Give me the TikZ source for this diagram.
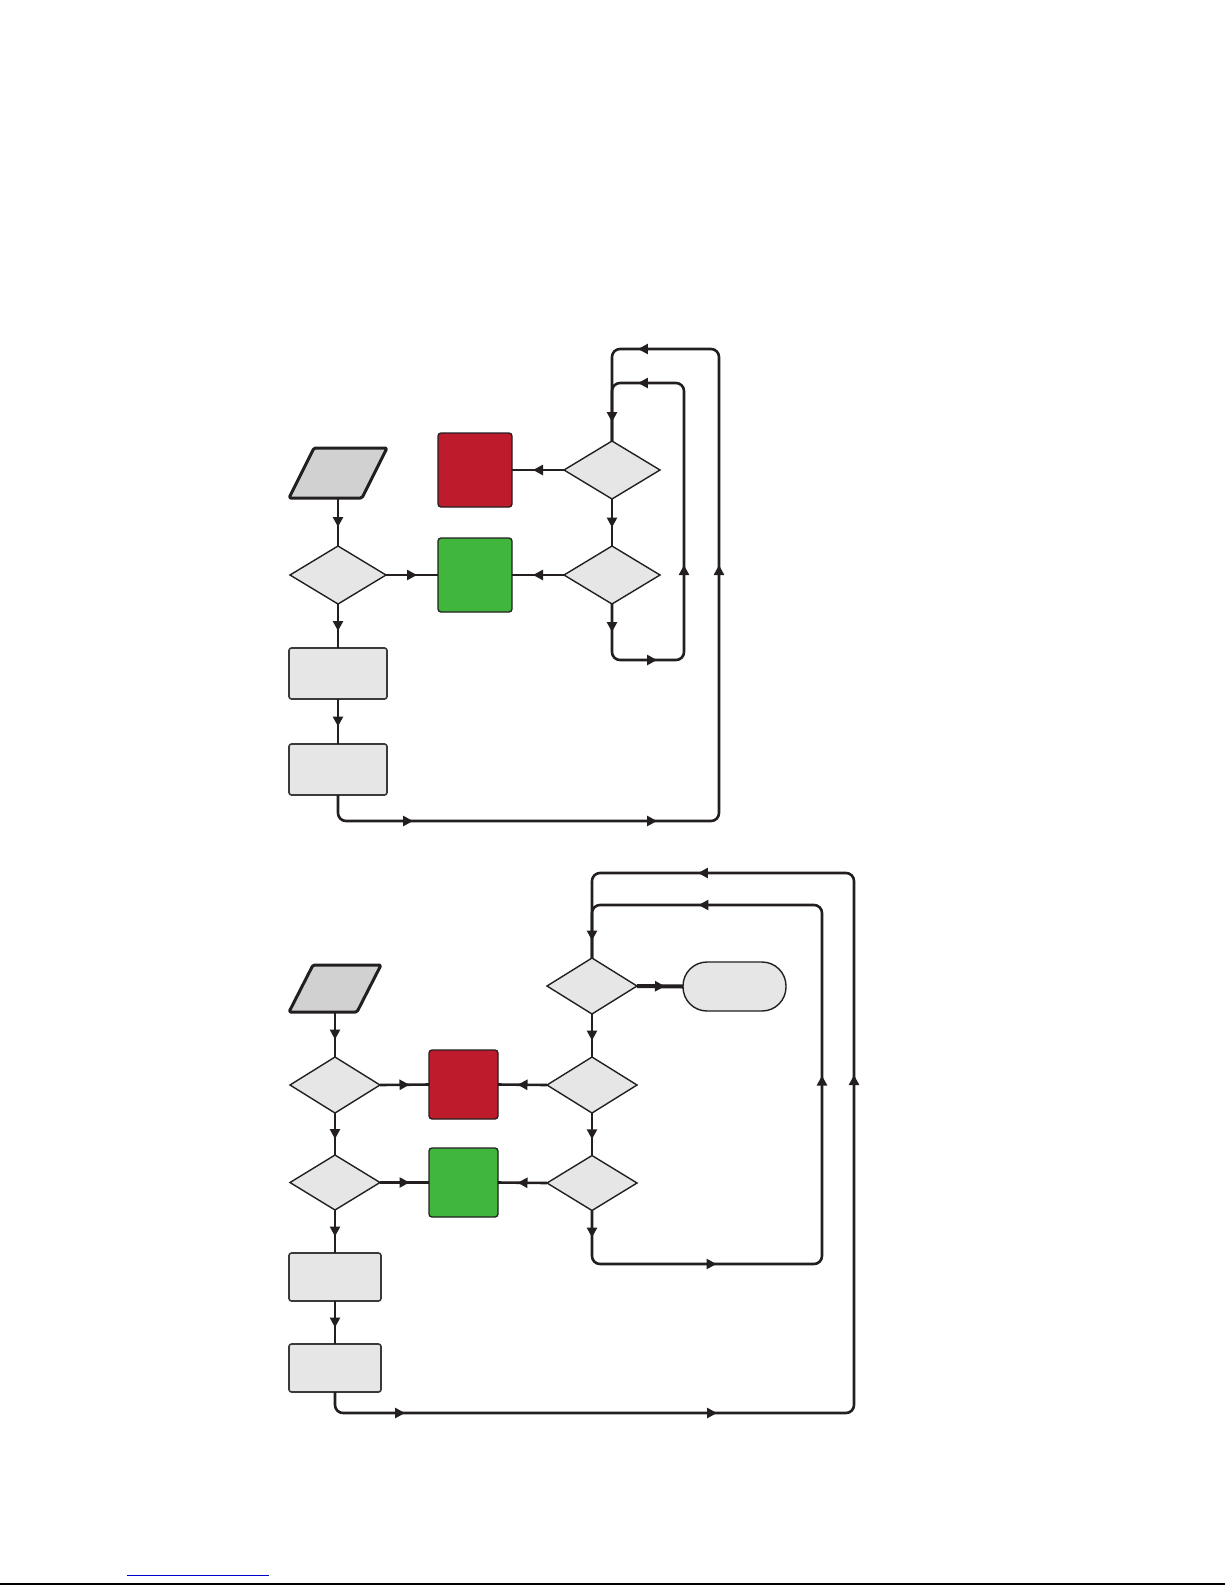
\documentclass[tikz,border=0pt]{standalone}
\usetikzlibrary{arrows.meta,shapes.geometric,decorations.markings}
\definecolor{linec}{HTML}{231F20}
\definecolor{lightfill}{HTML}{E6E6E6}
\definecolor{parafill}{HTML}{D1D1D1}
\definecolor{redfill}{HTML}{BE1B2C}
\definecolor{greenfill}{HTML}{41B63D}
\definecolor{boxline}{HTML}{3A3A3A}
\definecolor{blueline}{HTML}{0000CC}
\newcommand{\myah}{\pgftransformxshift{5pt}\arrow{myarr}}
\tikzset{
  myarr/.tip={Triangle[length=10pt,width=10pt]},
  conn/.style={color=linec,line width=2.6pt,rounded corners=8pt},
  midarr/.style={postaction={decorate,decoration={markings,mark=at position 0.5 with {\myah}}}},
  arrat/.style={postaction={decorate,decoration={markings,mark=at position #1 with {\myah}}}},
  dec/.style={diamond,draw=linec,line width=1.4pt,fill=lightfill,inner sep=0pt,outer sep=0pt},
  proc/.style={rectangle,draw=boxline,line width=1.6pt,fill=lightfill,rounded corners=2.5pt,inner sep=0pt,outer sep=0pt},
  redbox/.style={rectangle,draw=linec,line width=1.3pt,fill=redfill,rounded corners=3pt,inner sep=0pt,outer sep=0pt},
  greenbox/.style={rectangle,draw=linec,line width=1.3pt,fill=greenfill,rounded corners=3pt,inner sep=0pt,outer sep=0pt},
  parabox/.style={rectangle,inner sep=0pt,outer sep=0pt},
  parashape/.style={draw=linec,line width=3pt,fill=parafill,rounded corners=1.5pt,line join=round},
  term/.style={rectangle,draw=linec,line width=1.4pt,fill=lightfill,rounded corners=24pt,inner sep=0pt,outer sep=0pt}
}
\begin{document}
\begin{tikzpicture}[x=1pt,y=-1pt]
\useasboundingbox (0,0) rectangle (1225,1585);

% ---------- upper chart ----------
\node[parabox,minimum width=98pt,minimum height=50pt] (p1) at (338,473) {};
\draw[parashape] ([xshift=25pt]p1.north west) -- (p1.north east) -- ([xshift=-25pt]p1.south east) -- (p1.south west) -- cycle;
\node[dec,minimum width=96pt,minimum height=58pt] (d1) at (338,575) {};
\node[redbox,minimum width=74pt,minimum height=74pt] (r1) at (475,470) {};
\node[greenbox,minimum width=74pt,minimum height=74pt] (g1) at (475,575) {};
\node[dec,minimum width=96pt,minimum height=58pt] (d2) at (612,470) {};
\node[dec,minimum width=96pt,minimum height=58pt] (d3) at (612,575) {};
\node[proc,minimum width=98pt,minimum height=51pt] (b1) at (338,673.5) {};
\node[proc,minimum width=98pt,minimum height=51pt] (b2) at (338,769.5) {};

\draw[conn,midarr] (p1.south) -- (d1.north);
\draw[conn,midarr] (d1.east) -- (g1.west);
\draw[conn,midarr] (d1.south) -- (b1.north);
\draw[conn,midarr] (b1.south) -- (b2.north);
\draw[conn,midarr] (d2.west) -- (r1.east);
\draw[conn,midarr] (d3.west) -- (g1.east);
\draw[conn,midarr] (d2.south) -- (d3.north);
\draw[conn,arrat=23pt,arrat=92.6pt,arrat=211.1pt,arrat=435.7pt,arrat=497.3pt]
  (d3.south) -- (612,660) -- (684,660) -- (684,383) -- (612,383) -- (d2.north);
\draw[conn,arrat=92.6pt,arrat=336.6pt,arrat=651.1pt,arrat=944.7pt]
  (b2.south) -- (338,821) -- (719,821) -- (719,349) -- (612,349) -- (d2.north);

% ---------- lower chart ----------
\node[parabox,minimum width=92pt,minimum height=47pt] (p2) at (335,988.5) {};
\draw[parashape] ([xshift=24pt]p2.north west) -- (p2.north east) -- ([xshift=-24pt]p2.south east) -- (p2.south west) -- cycle;
\node[dec,minimum width=90pt,minimum height=56pt] (da) at (335,1085) {};
\node[dec,minimum width=90pt,minimum height=55pt] (db) at (335,1182.5) {};
\node[redbox,minimum width=69pt,minimum height=69pt] (r2) at (463.5,1084.5) {};
\node[greenbox,minimum width=69pt,minimum height=69pt] (g2) at (463.5,1182.5) {};
\node[dec,minimum width=90pt,minimum height=56pt] (e1) at (592,986) {};
\node[term,minimum width=103pt,minimum height=49pt] (t1) at (734.5,986.5) {};
\node[dec,minimum width=90pt,minimum height=56pt] (e2) at (592,1085) {};
\node[dec,minimum width=90pt,minimum height=55pt] (e3) at (592,1183) {};
\node[proc,minimum width=92pt,minimum height=48pt] (b3) at (335,1277) {};
\node[proc,minimum width=92pt,minimum height=48pt] (b4) at (335,1368) {};

\draw[conn,midarr] (p2.south) -- (da.north);
\draw[conn,midarr] (da.south) -- (db.north);
\draw[conn,midarr] (da.east) -- (r2.west);
\draw[conn,midarr] (db.east) -- (g2.west);
\draw[conn,midarr] (e2.west) -- (r2.east);
\draw[conn,midarr] (e3.west) -- (g2.east);
\draw[conn,midarr] (e1.south) -- (e2.north);
\draw[conn,midarr] (e2.south) -- (e3.north);
\draw[conn,line width=4pt,midarr] (e1.east) -- (t1.west);
\draw[conn,midarr] (db.south) -- (b3.north);
\draw[conn,midarr] (b3.south) -- (b4.north);
\draw[conn,arrat=22pt,arrat=169.6pt,arrat=460.1pt,arrat=750.7pt,arrat=889.3pt]
  (e3.south) -- (592,1264) -- (822,1264) -- (822,905) -- (592,905) -- (e1.north);
\draw[conn,arrat=82.6pt,arrat=394.6pt,arrat=866.1pt,arrat=1220.7pt]
  (b4.south) -- (335,1413) -- (854,1413) -- (854,873) -- (592,873) -- (e1.north);

% ---------- page rules ----------
\draw[color=blueline,line width=1pt] (127,1575) -- (269,1575);
\draw[color=black,line width=1.3pt] (0,1584) -- (1225,1584);
\end{tikzpicture}
\end{document}
